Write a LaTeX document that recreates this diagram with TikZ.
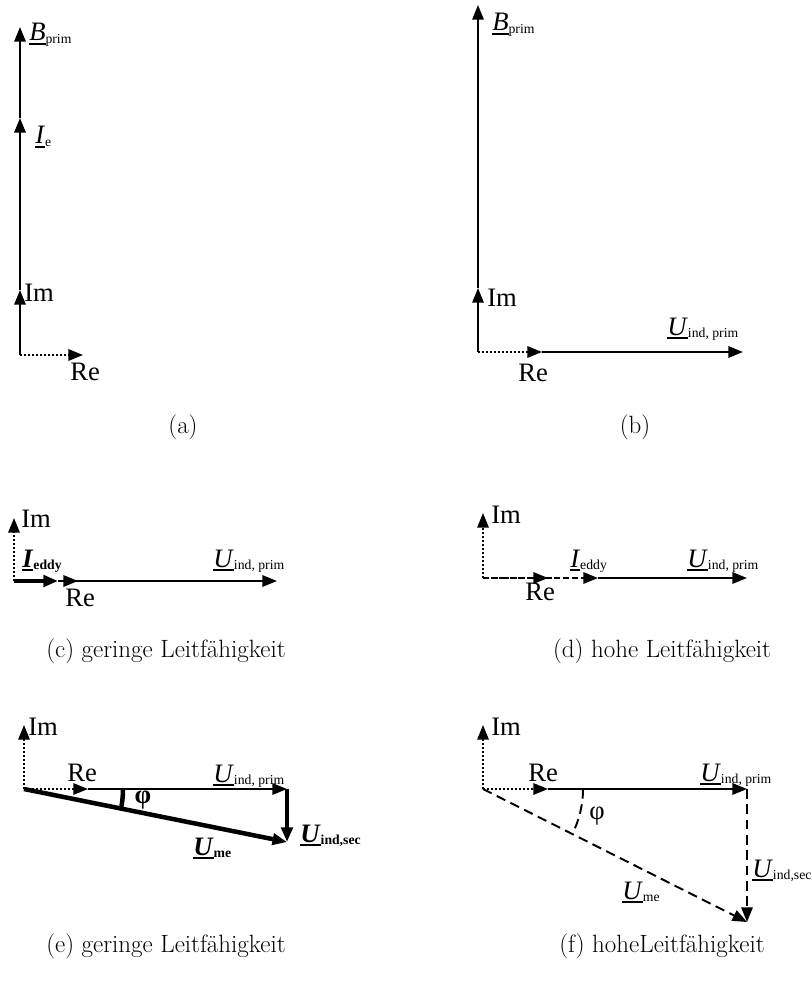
\documentclass[tikz,border=0pt]{standalone}
\usepackage{fontspec}
\newfontfamily\lblfont{Liberation Serif}
\usetikzlibrary{arrows.meta}
\newcommand\zunder[1]{\setbox0=\hbox{#1}\rlap{\rule[-2.2pt]{\wd0}{1pt}}\box0}
\newcommand\zeiger[2]{\zunder{\textit{#1}}\raisebox{-1.5pt}{\fontsize{8.5}{10}\selectfont #2}}
\tikzset{
  vec/.style={
    draw,
    -{Triangle[length=9pt,width=7pt]},
    line width=1.2pt
  },
  thickvec/.style={
    vec,
    line width=2.8pt
  },
  axisdot/.style={
    vec,
    dash pattern=on 1.2pt off 1.3pt
  },
  dashvec/.style={
    vec,
    dash pattern=on 6pt off 3.5pt
  },
  lbl/.style={
    anchor=base west,
    inner sep=0pt,
    font=\lblfont\fontsize{16.5}{19}\selectfont
  },
  subcap/.style={
    anchor=base,
    inner sep=0pt,
    font=\fontsize{15.5}{18}\selectfont
  },
  every edge/.style={vec}
}

\begin{document}
\begin{tikzpicture}[x=0.62pt,y=0.62pt]
  \useasboundingbox (0,0) rectangle (811,-981);

  % (a)
  \coordinate (oA) at (20,-355);
  \coordinate (imA) at (20,-290);
  \coordinate (ieA) at (20,-118);
  \coordinate (bA) at (20,-27);
  \coordinate (reA) at (83,-355);
  \node[lbl] (tImA) at (24,-302) {Im};
  \node[lbl] (tReA) at (70,-380) {Re};
  \node[lbl] (tIeA) at (35,-144) {\zeiger{I}{e}};
  \node[lbl] (tBA) at (29,-41) {\zeiger{B}{prim}};
  \node[subcap] (capA) at (183,-433) {(a)};
  \path (oA) edge[axisdot] (reA)
        (oA) edge (imA)
        (imA) edge (ieA)
        (ieA) edge (bA);

  % (b)
  \coordinate (oB) at (478,-352);
  \coordinate (imB) at (478,-288);
  \coordinate (bB) at (478,-5);
  \coordinate (reB) at (542,-352);
  \coordinate (uB) at (743,-352);
  \node[lbl] (tImB) at (487,-306) {Im};
  \node[lbl] (tReB) at (518,-381) {Re};
  \node[lbl] (tBB) at (492,-31) {\zeiger{B}{prim}};
  \node[lbl] (tUB) at (667,-335) {\zeiger{U}{ind, prim}};
  \node[subcap] (capB) at (635,-433) {(b)};
  \path (oB) edge[axisdot] (reB)
        (oB) edge (imB)
        (imB) edge (bB)
        (reB) edge (uB);

  % (c)
  \coordinate (oC) at (14,-581);
  \coordinate (imC) at (14,-518);
  \coordinate (ieC) at (58,-581);
  \coordinate (reC) at (78,-581);
  \coordinate (uC) at (277,-581);
  \node[lbl] (tImC) at (21,-527) {Im};
  \node[lbl] (tIeC) at (22,-567) {\bfseries\zeiger{I}{eddy}};
  \node[lbl] (tReC) at (65,-606) {Re};
  \node[lbl] (tUC) at (213,-567) {\zeiger{U}{ind, prim}};
  \node[subcap] (capC) at (166,-657) {(c) geringe Leitfähigkeit};
  \path (oC) edge[axisdot] (imC)
        (oC) edge[axisdot] (reC)
        (oC) edge[thickvec] (ieC)
        (ieC) edge (uC);

  % (d)
  \coordinate (oD) at (483,-578);
  \coordinate (imD) at (483,-513);
  \coordinate (reD) at (548,-578);
  \coordinate (ieD) at (598,-578);
  \coordinate (uD) at (747,-578);
  \node[lbl] (tImD) at (491,-523) {Im};
  \node[lbl] (tIeD) at (570,-567) {\zeiger{I}{eddy}};
  \node[lbl] (tReD) at (525,-600) {Re};
  \node[lbl] (tUD) at (687,-567) {\zeiger{U}{ind, prim}};
  \node[subcap] (capD) at (662,-657) {(d) hohe Leitfähigkeit};
  \path (oD) edge[axisdot] (imD)
        (oD) edge[axisdot] (reD)
        (oD) edge[dash pattern=on 4pt off 1.5pt] (ieD)
        (ieD) edge (uD);

  % (e)
  \coordinate (oE) at (24,-789);
  \coordinate (imE) at (24,-725);
  \coordinate (reE) at (88,-789);
  \coordinate (uE) at (287,-789);
  \coordinate (usE) at (287,-842);
  \node[lbl] (tImE) at (28,-735) {Im};
  \node[lbl] (tReE) at (67,-781) {Re};
  \node[lbl] (tUE) at (213,-782) {\zeiger{U}{ind, prim}};
  \node[lbl] (tUsE) at (300,-842) {\bfseries\zeiger{U}{ind,sec}};
  \node[lbl] (tUmE) at (193,-855) {\bfseries\zeiger{U}{me}};
  \node[lbl,anchor=center] (phiE) at (143,-800) {\bfseries φ};
  \node[subcap] (capE) at (166,-952) {(e) geringe Leitfähigkeit};
  \path (oE) edge[axisdot] (imE)
        (oE) edge[axisdot] (reE)
        (reE) edge (uE)
        (uE) edge[thickvec] (usE)
        (oE) edge[thickvec] (usE);
  \draw[line width=2.8pt] ([shift={(0:99)}]oE) arc[start angle=0,end angle=-10.4,radius=99];

  % (f)
  \coordinate (oF) at (483,-789);
  \coordinate (imF) at (483,-725);
  \coordinate (reF) at (548,-789);
  \coordinate (uF) at (747,-789);
  \coordinate (usF) at (747,-922);
  \node[lbl] (tImF) at (491,-735) {Im};
  \node[lbl] (tReF) at (528,-781) {Re};
  \node[lbl] (tUF) at (700,-781) {\zeiger{U}{ind, prim}};
  \node[lbl] (tUsF) at (752,-877) {\zeiger{U}{ind,sec}};
  \node[lbl] (tUmF) at (622,-899) {\zeiger{U}{me}};
  \node[lbl,anchor=center] (phiF) at (597,-816) {φ};
  \node[subcap] (capF) at (662,-952) {(f) hoheLeitfähigkeit};
  \path (oF) edge[axisdot] (imF)
        (oF) edge[axisdot] (reF)
        (reF) edge (uF)
        (uF) edge[dashvec] (usF)
        (oF) edge[dashvec] (usF);
  \draw[line width=1.2pt,dash pattern=on 6pt off 3.5pt] ([shift={(0:100)}]oF) arc[start angle=0,end angle=-26.9,radius=100];
\end{tikzpicture}
\end{document}
